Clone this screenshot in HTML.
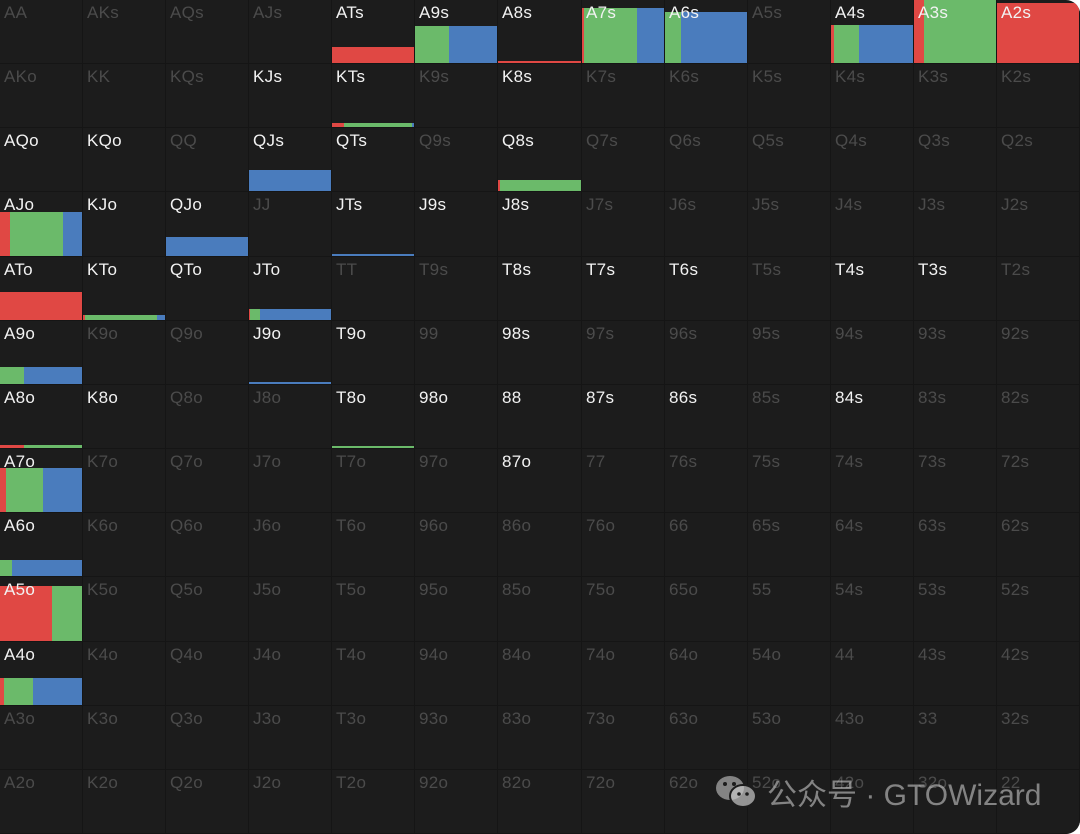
<!DOCTYPE html>
<html><head><meta charset="utf-8">
<style>
html,body{margin:0;padding:0;background:#fff;}
#grid{position:relative;width:1080px;height:834px;background:#1c1c1c;overflow:hidden;border-radius:0 14px 14px 0;font-family:"Liberation Sans","Noto Sans CJK SC",sans-serif;}
.cell{position:absolute;box-sizing:border-box;border-right:1px solid #151515;border-bottom:1px solid #151515;}
.lbl{position:absolute;left:4px;top:3px;font-size:17px;letter-spacing:0.3px;z-index:2;}
.seg{position:absolute;bottom:0;}
#wm{position:absolute;left:713px;top:770px;font-size:30px;color:rgba(200,200,200,0.6);white-space:nowrap;z-index:5;display:flex;align-items:center;gap:6px;font-family:"Liberation Sans","Noto Sans CJK SC",sans-serif;}
</style></head><body>
<div id="grid"></div>
<script>
const ranks = ["A","K","Q","J","T","9","8","7","6","5","4","3","2"];
const activeHands = ["ATs","A9s","A8s","A7s","A6s","A4s","A3s","A2s","KJs","KTs","K8s","AQo","KQo","QJs","QTs","Q8s","AJo","KJo","QJo","JTs","J9s","J8s","ATo","KTo","QTo","JTo","T8s","T7s","T6s","T4s","T3s","A9o","J9o","T9o","98s","A8o","K8o","T8o","98o","88","87s","86s","84s","A7o","87o","A6o","A5o","A4o"];
// hand -> [total frequency, red share, green share, blue share]
const barHands = ["ATs","A9s","A8s","A7s","A6s","A4s","A3s","A2s","KTs","QJs","Q8s","AJo","QJo","JTs","ATo","KTo","JTo","A9o","J9o","A8o","T8o","A7o","A6o","A5o","A4o"];
const barTotals = [0.25,0.59,0.02,0.87,0.81,0.61,1.0,0.96,0.06,0.33,0.17,0.69,0.3,0.02,0.45,0.08,0.18,0.27,0.02,0.05,0.02,0.7,0.25,0.86,0.43];
const redShare =  [1,0,1,0.03,0,0.04,0.12,1,0.15,0,0.02,0.12,0,0,1,0.03,0.01,0,0,0.29,0,0.07,0,0.64,0.05];
const greenShare =[0,0.41,0,0.64,0.2,0.3,0.88,0,0.82,0,0.98,0.65,0,0,0,0.87,0.12,0.29,0,0.71,1,0.45,0.15,0.36,0.35];
const blueShare = [0,0.59,0,0.33,0.8,0.66,0,0,0.03,1,0,0.23,1,1,0,0.1,0.87,0.71,1,0,0,0.48,0.85,0,0.6];
const colors = ["#e04844","#6bba6a","#4a7cbd"];
const W = 1080/13, H = 834/13;
const grid = document.getElementById('grid');
function handName(i,j){
  if(i===j) return ranks[i]+ranks[j];
  if(j>i) return ranks[i]+ranks[j]+"s";
  return ranks[j]+ranks[i]+"o";
}
for(let i=0;i<13;i++){
  for(let j=0;j<13;j++){
    const h = handName(i,j);
    const x0 = Math.round(j*W), x1 = Math.round((j+1)*W);
    const y0 = Math.round(i*H), y1 = Math.round((i+1)*H);
    const c = document.createElement('div');
    c.className='cell';
    
    
    c.style.left=x0+'px'; c.style.top=y0+'px';
    c.style.width=(x1-x0)+'px'; c.style.height=(y1-y0)+'px';
    const l = document.createElement('div');
    l.className='lbl';
    
    
    l.textContent=h;
    l.style.color = activeHands.includes(h) ? '#f2f2f2' : '#4b4b4b';
    c.appendChild(l);
    const k = barHands.indexOf(h);
    if(k>=0){
      const cw = x1-x0-1, ch = y1-y0-1;
      const bh = barTotals[k]*ch;
      const shares=[redShare[k],greenShare[k],blueShare[k]];
      const sum = shares[0]+shares[1]+shares[2];
      let acc=0;
      for(let s=0;s<3;s++){
        if(shares[s]<=0) continue;
        const seg=document.createElement('div');
        seg.className='seg';
        
        
        seg.style.left=(acc/sum*cw)+'px';
        seg.style.width=(shares[s]/sum*cw)+'px';
        seg.style.height=Math.max(bh,2)+'px';
        seg.style.background=colors[s];
        c.appendChild(seg);
        acc+=shares[s];
      }
    }
    grid.appendChild(c);
  }
}
</script>
<div id="wm">
<svg width="48" height="36" viewBox="0 0 48 36"><ellipse cx="17" cy="14" rx="14" ry="12" fill="rgba(200,200,200,0.6)"/><ellipse cx="30" cy="22" rx="13" ry="11" fill="rgba(200,200,200,0.7)" stroke="#1c1c1c" stroke-width="2"/><circle cx="12" cy="10" r="2" fill="#1c1c1c"/><circle cx="21" cy="10" r="2" fill="#1c1c1c"/><circle cx="26" cy="20" r="1.8" fill="#1c1c1c"/><circle cx="34" cy="20" r="1.8" fill="#1c1c1c"/></svg>
<span>公众号 · GTOWizard</span>
</div>
</body></html>
